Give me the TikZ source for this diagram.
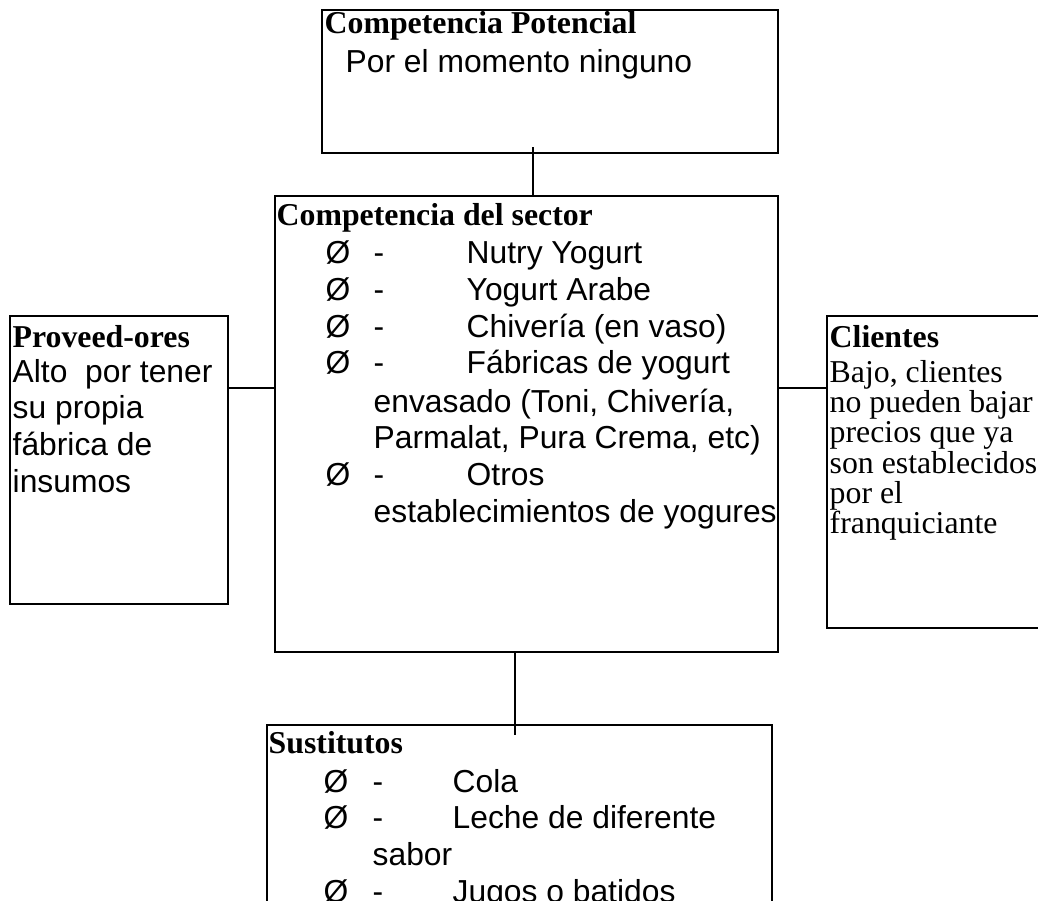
\documentclass[tikz,border=0pt]{standalone}
\usepackage{fontspec}
\setmainfont{Liberation Serif}
\setsansfont{Liberation Sans}
\usepackage{tikz}
\usetikzlibrary{calc}

\tikzset{
  box/.style={draw, line width=1.4pt, anchor=north west, inner sep=0pt, outer sep=0pt},
  head/.style={font=\bfseries\fontsize{31.8}{36}\selectfont, anchor=base west, inner sep=0pt},
  body/.style={font=\sffamily\fontsize{31.8}{36}\selectfont, anchor=base west, inner sep=0pt},
  serifbody/.style={font=\fontsize{31.8}{36}\selectfont, anchor=base west, inner sep=0pt}
}

\begin{document}
\begin{tikzpicture}[x=1pt, y=-1pt, line width=1.4pt]

    % Page frame
    \useasboundingbox (0,0) rectangle (1038,900);
    \clip (0,0) rectangle (1038,900);

    % Boxes
    \node[box, minimum width=456, minimum height=143] (pot) at (322,10) {};
    \node[box, minimum width=503, minimum height=456] (sector) at (275,196) {};
    \node[box, minimum width=218, minimum height=288] (prov) at (10,316) {};
    \node[box, minimum width=223, minimum height=312] (cli) at (827,316) {};
    \node[box, minimum width=505, minimum height=260] (sust) at (267,725) {};

    % Connectors
    \coordinate (t1) at ([xshift=-17pt,yshift=6pt]pot.south);
    \draw (t1) -- (t1 |- sector.north);
    \coordinate (b1) at ([xshift=-11.5pt]sector.south);
    \draw (b1) -- ($(b1 |- sust.north)+(0,10)$);
    \coordinate (l1) at ([yshift=72pt]prov.east);
    \draw (l1) -- (l1 -| sector.west);
    \coordinate (r1) at ([yshift=84pt]cli.west);
    \draw (r1) -- (r1 -| sector.east);

    % Competencia potencial
    \node[head] (pothead) at (324,33) {Competencia Potencial};
    \node[body] (potbody) at (345,72) {Por el momento ninguno};

    % Competencia del sector
    \node[head] (sechead) at (276,225) {Competencia del sector};
    \foreach \y/\t [count=\i] in {263/Nutry Yogurt, 300/Yogurt Arabe, 337/Chivería (en vaso), 373/Fábricas de yogurt, 485/Otros} {
        \node[body] (sb\i) at (325,\y) {Ø};
        \node[body] (sd\i) at (373,\y) {-};
        \node[body] (st\i) at (466,\y) {\t};
    }
    \node[body] (sc1) at (373,412) {envasado (Toni, Chivería,};
    \node[body] (sc2) at (373,448) {Parmalat, Pura Crema, etc)};
    \node[body] (sc3) at (373,522) {establecimientos de yogures};

    % Proveedores
    \node[head] (provhead) at (12,347) {Proveed-ores};
    \foreach \y/\t [count=\i] in {382/Alto\ \ por tener, 418/su propia, 455/fábrica de, 492/insumos}
        \node[body] (pv\i) at (12,\y) {\t};

    % Clientes
    \node[head] (clihead) at (829,347) {Clientes};
    \foreach \y/\t [count=\i] in {382/{Bajo, clientes}, 412/no pueden bajar, 442/precios que ya, 473/son establecidos, 503/por el, 533/franquiciante}
        \node[serifbody] (cl\i) at (829,\y) {\t};

    % Sustitutos
    \node[head] (susthead) at (268,753) {Sustitutos};
    \foreach \y/\t [count=\i] in {792/Cola, 828/Leche de diferente, 902/Jugos o batidos} {
        \node[body] (ub\i) at (323,\y) {Ø};
        \node[body] (ud\i) at (372,\y) {-};
        \node[body] (ut\i) at (452,\y) {\t};
    }
    \node[body] (uc1) at (372,865) {sabor};

\end{tikzpicture}
\end{document}
